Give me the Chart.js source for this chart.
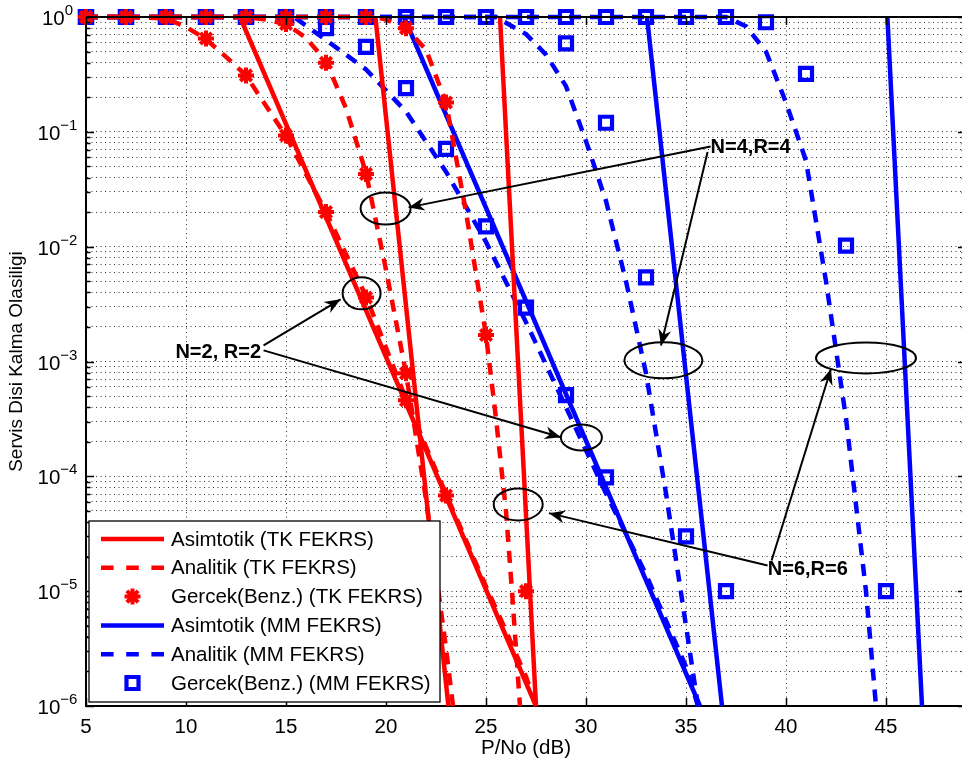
<!DOCTYPE html>
<html>
<head>
<meta charset="utf-8">
<script src="https://cdn.jsdelivr.net/npm/chart.js@4/dist/chart.umd.min.js"></script>
<style>
    html, body { margin: 0; padding: 0; background: #fff; overflow: hidden; }
    canvas { display: block; }
</style>
</head>
<body>
<canvas id="plot" width="970" height="765"></canvas>
<script>
// P/No (dB) points of the simulations
var simX = [5, 7, 9, 11, 13, 15, 17, 19, 21, 23, 25, 27, 29, 31, 33, 35, 37, 39, 41, 43, 45];
var xTicks = [5, 10, 15, 20, 25, 30, 35, 40, 45];

// TK FEKRS - asimtotik (N=2, N=4, N=6)
var tkAsym2X = [12.7, 27.5], tkAsym2Y = [1, 1e-6];
var tkAsym4X = [19.47, 23.12], tkAsym4Y = [1, 1e-6];
var tkAsym6X = [25.7, 27.5], tkAsym6Y = [1, 1e-6];

// TK FEKRS - analitik
var tkAna2X = [5, 7, 9, 10, 11, 12, 13, 15, 17, 19, 21, 23, 25, 26, 27, 27.5];
var tkAna2Y = [1, 1, 0.97, 0.82, 0.64, 0.45, 0.31, 0.092, 0.02, 0.0037, 4.7e-4, 7e-5, 1.1e-5, 4.5e-6, 1.8e-6, 1e-6];
var tkAna4X = [5, 13, 14, 15, 16, 17, 18, 19, 20, 21, 22, 23, 23.35];
var tkAna4Y = [1, 1, 0.95, 0.87, 0.66, 0.41, 0.16, 0.044, 0.0063, 7.9e-4, 6.3e-5, 3.2e-6, 1e-6];
var tkAna6X = [5, 19.5, 20, 21, 22, 23, 24, 25, 25.5, 26, 26.3, 26.7];
var tkAna6Y = [1, 1, 0.95, 0.8, 0.52, 0.18, 0.02, 1.7e-3, 3.2e-4, 5e-5, 1e-5, 1e-6];

// TK FEKRS - gercek (benzetim), on simX
var tkSim2 = [1, 1, 1, 0.65, 0.31, 0.093, 0.02, 0.0036, 4.6e-4, 6.8e-5, null, null, null, null, null, null, null, null, null, null, null];
var tkSim4 = [1, 1, 1, 1, 1, 0.87, 0.4, 0.043, 7.9e-4, null, null, null, null, null, null, null, null, null, null, null, null];
var tkSim6 = [1, 1, 1, 1, 1, 1, 1, 1, 0.8, 0.18, 1.7e-3, 1e-5, null, null, null, null, null, null, null, null, null];

// MM FEKRS - asimtotik
var mmAsym2X = [20.9, 35.7], mmAsym2Y = [1, 1e-6];
var mmAsym4X = [33.05, 36.8], mmAsym4Y = [1, 1e-6];
var mmAsym6X = [45.07, 46.8], mmAsym6Y = [1, 1e-6];

// MM FEKRS - analitik
var mmAna2X = [5, 15.4, 17, 19, 21, 23, 25, 27, 29, 31, 33, 35, 35.6];
var mmAna2Y = [1, 1, 0.63, 0.35, 0.15, 0.045, 0.011, 2.2e-3, 4e-4, 7.1e-5, 1.4e-5, 2.2e-6, 1e-6];
var mmAna4X = [5, 25.5, 26, 27, 28, 29, 30, 31, 32, 33, 34, 35, 35.6];
var mmAna4Y = [1, 1, 0.89, 0.71, 0.47, 0.25, 0.083, 0.025, 5e-3, 7.9e-4, 7.1e-5, 5e-6, 1e-6];
var mmAna6X = [5, 37, 38, 39, 40, 41, 42, 43, 44, 44.5];
var mmAna6Y = [1, 1, 0.83, 0.5, 0.18, 0.056, 5e-3, 3.2e-4, 1e-5, 1e-6];

// MM FEKRS - gercek (benzetim), on simX
var mmSim2 = [1, 1, 1, 1, 1, 1, 0.8, 0.55, 0.24, 0.071, 0.015, 2.95e-3, 5.1e-4, 9.8e-5, null, null, null, null, null, null, null];
var mmSim4 = [1, 1, 1, 1, 1, 1, 1, 1, 1, 1, 1, 1, 0.59, 0.12, 5.4e-3, 3e-5, 1e-5, null, null, null, null];
var mmSim6 = [1, 1, 1, 1, 1, 1, 1, 1, 1, 1, 1, 1, 1, 1, 1, 1, 1, 0.9, 0.32, 0.0102, 1e-5];

// annotations, in data coordinates (x dB, y probability)
var noteEllipses = [
    {x: 19.98, y: 0.0215, rx: 25, ry: 16},
    {x: 18.78, y: 0.00392, rx: 19, ry: 16},
    {x: 29.77, y: 2.18e-4, rx: 20.5, ry: 13},
    {x: 26.61, y: 5.69e-5, rx: 24.5, ry: 16},
    {x: 33.87, y: 1.023e-3, rx: 39, ry: 18},
    {x: 44.0, y: 1.074e-3, rx: 50, ry: 15.5}
];
var noteArrows = [
    {x1: 36.23, y1: 0.0746, x2: 21.13, y2: 0.02198},
    {x1: 36.08, y1: 0.0667, x2: 33.75, y2: 1.38e-3},
    {x1: 13.88, y1: 1.38e-3, x2: 17.73, y2: 3.48e-3},
    {x1: 13.88, y1: 1.25e-3, x2: 28.74, y2: 2.19e-4},
    {x1: 39.08, y1: 1.67e-5, x2: 28.15, y2: 4.78e-5},
    {x1: 39.28, y1: 1.85e-5, x2: 42.25, y2: 8.65e-4}
];
var noteLabels = [
    {text: "N=4,R=4", x: 36.23, y: 0.065},
    {text: "N=2, R=2", x: 9.47, y: 1.064e-3},
    {text: "N=6,R=6", x: 39.09, y: 1.37e-5}
];

var RED = "#ff0000";
var BLUE = "#0000ff";
var FONT = '"Liberation Sans", Arial, Helvetica, sans-serif';
Chart.defaults.font.family = FONT;
Chart.defaults.color = "#000";

function pairs(xs, ys) {
    var out = [];
    for (var i = 0; i < xs.length; i++) {
        if (ys[i] !== null) {
            out.push({x: xs[i], y: ys[i]});
        }
    }
    return out;
}

function lineSet(label, xs, ys, color, dashed) {
    return {
        label: label,
        data: pairs(xs, ys),
        borderColor: color,
        backgroundColor: color,
        borderWidth: 4.5,
        borderDash: dashed ? [12, 9] : [],
        pointRadius: 0,
        fill: false,
        tension: 0,
        clip: false
    };
}

function simSet(label, ys, color, square) {
    return {
        label: label,
        data: pairs(simX, ys),
        showLine: false,
        borderColor: color,
        backgroundColor: square ? "rgba(0,0,0,0)" : color,
        pointStyle: square ? "rect" : "star",
        pointRadius: square ? 8.5 : 8,
        pointBorderWidth: square ? 4.2 : 4,
        clip: false
    };
}

var datasets = [
    lineSet("Asimtotik (TK FEKRS)", tkAsym2X, tkAsym2Y, RED, false),
    lineSet("", tkAsym4X, tkAsym4Y, RED, false),
    lineSet("", tkAsym6X, tkAsym6Y, RED, false),
    lineSet("Analitik (TK FEKRS)", tkAna2X, tkAna2Y, RED, true),
    lineSet("", tkAna4X, tkAna4Y, RED, true),
    lineSet("", tkAna6X, tkAna6Y, RED, true),
    simSet("Gercek(Benz.) (TK FEKRS)", tkSim2, RED, false),
    simSet("", tkSim4, RED, false),
    simSet("", tkSim6, RED, false),
    lineSet("Asimtotik (MM FEKRS)", mmAsym2X, mmAsym2Y, BLUE, false),
    lineSet("", mmAsym4X, mmAsym4Y, BLUE, false),
    lineSet("", mmAsym6X, mmAsym6Y, BLUE, false),
    lineSet("Analitik (MM FEKRS)", mmAna2X, mmAna2Y, BLUE, true),
    lineSet("", mmAna4X, mmAna4Y, BLUE, true),
    lineSet("", mmAna6X, mmAna6Y, BLUE, true),
    simSet("Gercek(Benz.) (MM FEKRS)", mmSim2, BLUE, true),
    simSet("", mmSim4, BLUE, true),
    simSet("", mmSim6, BLUE, true)
];
var legendIdx = [0, 3, 6, 9, 12, 15];

function isDecade(v) {
    var l = Math.log10(v);
    return Math.abs(l - Math.round(l)) < 1e-9;
}

function drawMarker(ctx, ds, x, y) {
    ctx.save();
    ctx.strokeStyle = ds.borderColor;
    ctx.lineWidth = ds.pointBorderWidth;
    var r = ds.pointRadius;
    ctx.beginPath();
    if (ds.pointStyle === "rect") {
        var h = r * Math.SQRT1_2;
        ctx.rect(x - h, y - h, 2 * h, 2 * h);
    } else {
        for (var a = 0; a < 4; a++) {
            var ang = a * Math.PI / 4;
            ctx.moveTo(x - r * Math.cos(ang), y - r * Math.sin(ang));
            ctx.lineTo(x + r * Math.cos(ang), y + r * Math.sin(ang));
        }
    }
    ctx.stroke();
    ctx.restore();
}

function drawArrow(ctx, x1, y1, x2, y2) {
    ctx.beginPath();
    ctx.moveTo(x1, y1);
    ctx.lineTo(x2, y2);
    ctx.stroke();
    var a = Math.atan2(y2 - y1, x2 - x1);
    ctx.save();
    ctx.translate(x2, y2);
    ctx.rotate(a);
    ctx.beginPath();
    ctx.moveTo(0, 0);
    ctx.lineTo(-16, -6.5);
    ctx.lineTo(-11, 0);
    ctx.lineTo(-16, 6.5);
    ctx.closePath();
    ctx.fill();
    ctx.restore();
}

var overlay = {
    id: "overlay",
    afterDraw: function (chart) {
        var ctx = chart.ctx;
        var area = chart.chartArea;
        var xs = chart.scales.x;
        var ys = chart.scales.y;
        ctx.save();

        // box edges (top, right) and inward ticks
        ctx.strokeStyle = "#000";
        ctx.lineWidth = 2;
        ctx.beginPath();
        ctx.moveTo(area.left, area.top);
        ctx.lineTo(area.right, area.top);
        ctx.lineTo(area.right, area.bottom);
        ctx.stroke();
        ctx.lineWidth = 1.5;
        ctx.beginPath();
        xs.ticks.forEach(function (t) {
            var px = Math.round(xs.getPixelForValue(t.value)) + 0.5;
            ctx.moveTo(px, area.bottom);
            ctx.lineTo(px, area.bottom - 8);
            ctx.moveTo(px, area.top);
            ctx.lineTo(px, area.top + 8);
        });
        ys.ticks.forEach(function (t) {
            var py = Math.round(ys.getPixelForValue(t.value)) + 0.5;
            var len = isDecade(t.value) ? 8 : 4.5;
            ctx.moveTo(area.left, py);
            ctx.lineTo(area.left + len, py);
            ctx.moveTo(area.right, py);
            ctx.lineTo(area.right - len, py);
        });
        ctx.stroke();

        // y tick labels 10^k
        ctx.fillStyle = "#000";
        ctx.textAlign = "left";
        ctx.textBaseline = "alphabetic";
        for (var k = 0; k <= 6; k++) {
            var py = ys.getPixelForValue(Math.pow(10, -k));
            var base = "10";
            var sup = k === 0 ? "0" : "\u2212" + k;
            ctx.font = "20.5px " + FONT;
            var wb = ctx.measureText(base).width;
            ctx.font = "15px " + FONT;
            var ws = ctx.measureText(sup).width;
            var x0 = 57.5 - (wb + ws) / 2;
            ctx.font = "20.5px " + FONT;
            ctx.fillText(base, x0, py + 8);
            ctx.font = "15px " + FONT;
            ctx.fillText(sup, x0 + wb, py - 2);
        }

        // ellipses, arrows and labels
        ctx.strokeStyle = "#000";
        ctx.fillStyle = "#000";
        ctx.lineWidth = 2;
        noteEllipses.forEach(function (e) {
            ctx.beginPath();
            ctx.ellipse(xs.getPixelForValue(e.x), ys.getPixelForValue(e.y), e.rx, e.ry, 0, 0, 2 * Math.PI);
            ctx.stroke();
        });
        noteArrows.forEach(function (a) {
            drawArrow(ctx, xs.getPixelForValue(a.x1), ys.getPixelForValue(a.y1),
                xs.getPixelForValue(a.x2), ys.getPixelForValue(a.y2));
        });
        ctx.font = "bold 20px " + FONT;
        noteLabels.forEach(function (n) {
            ctx.fillText(n.text, xs.getPixelForValue(n.x), ys.getPixelForValue(n.y));
        });

        // legend box
        var bx = 89, by = 521, bw = 351, bh = 181;
        ctx.fillStyle = "#fff";
        ctx.fillRect(bx, by, bw, bh);
        ctx.strokeStyle = "#000";
        ctx.lineWidth = 1.3;
        ctx.strokeRect(bx, by, bw, bh);
        ctx.font = "20.5px " + FONT;
        ctx.textBaseline = "middle";
        legendIdx.forEach(function (idx, row) {
            var ds = chart.data.datasets[idx];
            var ry = 539 + row * 28.8;
            if (ds.showLine === false) {
                drawMarker(ctx, ds, 132.5, ry);
            } else {
                ctx.save();
                ctx.strokeStyle = ds.borderColor;
                ctx.lineWidth = ds.borderWidth;
                ctx.setLineDash(ds.borderDash.length ? [12.6, 12.6] : []);
                ctx.beginPath();
                ctx.moveTo(101, ry);
                ctx.lineTo(164, ry);
                ctx.stroke();
                ctx.restore();
            }
            ctx.fillStyle = "#000";
            ctx.fillText(ds.label, 171, ry + 1);
        });
        ctx.restore();
    }
};

new Chart(document.getElementById("plot"), {
    type: "line",
    data: {datasets: datasets},
    options: {
        responsive: false,
        animation: false,
        events: [],
        layout: {autoPadding: false, padding: {left: 0, right: 4, top: 17, bottom: 0}},
        plugins: {
            legend: {display: false},
            tooltip: {enabled: false}
        },
        scales: {
            x: {
                type: "linear",
                min: 5,
                max: 49,
                afterBuildTicks: function (scale) {
                    scale.ticks = xTicks.map(function (v) { return {value: v}; });
                },
                afterFit: function (scale) {
                    scale.height = 59;
                    scale.paddingLeft = 0;
                    scale.paddingRight = 0;
                },
                ticks: {padding: 9, font: {size: 20.5}, color: "#000", maxRotation: 0, autoSkip: false},
                grid: {color: "#333", lineWidth: 1, drawTicks: false},
                border: {color: "#000", width: 2, dash: [1, 3.5]},
                title: {display: true, text: "P/No (dB)", font: {size: 20.5}, color: "#000", padding: {top: 0, bottom: 4}}
            },
            y: {
                type: "logarithmic",
                min: 1e-6,
                max: 1,
                afterBuildTicks: function (scale) {
                    var vals = [];
                    for (var e = -6; e < 0; e++) {
                        for (var m = 1; m < 10; m++) {
                            vals.push(m * Math.pow(10, e));
                        }
                    }
                    vals.push(1);
                    scale.ticks = vals.map(function (v) { return {value: v}; });
                },
                afterFit: function (scale) {
                    scale.width = 86;
                    scale.paddingTop = 0;
                    scale.paddingBottom = 0;
                },
                ticks: {display: false},
                grid: {color: "#333", lineWidth: 1, drawTicks: false},
                border: {color: "#000", width: 2, dash: [1, 3.5]},
                title: {display: true, text: "Servis Disi Kalma Olasiligi", font: {size: 19}, color: "#000", padding: {top: 5, bottom: 0}}
            }
        }
    },
    plugins: [overlay]
});
</script>
</body>
</html>
